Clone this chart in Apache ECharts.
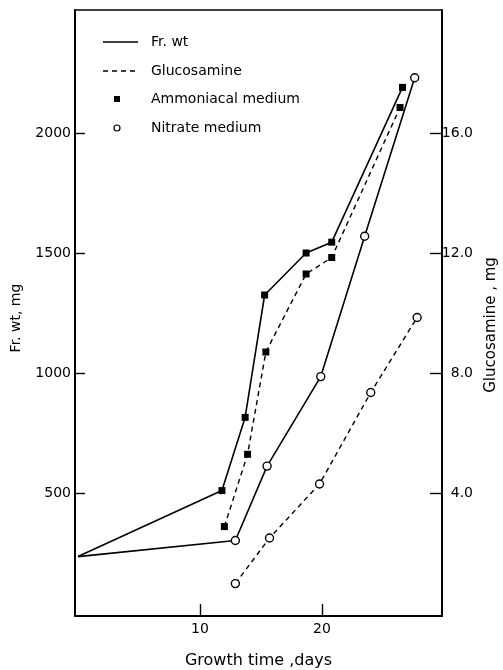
<!DOCTYPE html>
<html>
<head>
<meta charset="utf-8">
<script src="https://cdn.jsdelivr.net/npm/echarts@6/dist/echarts.min.js"></script>
<style>html,body{margin:0;padding:0;background:#fff;}#c{width:503px;height:670px;}</style>
</head>
<body>
<div id="c"></div>
<script>
// Data
var ammFrDays = [0, 11.8, 13.7, 15.3, 18.7, 20.8, 26.6];
var ammFrVals = [235, 510, 815, 1325, 1500, 1545, 2190];
var ammGlDays = [12.0, 13.9, 15.4, 18.7, 20.8, 26.4];
var ammGlVals = [2.88, 5.29, 8.7, 11.3, 11.85, 16.85];
var nitFrDays = [0, 12.9, 15.5, 19.9, 23.5, 27.6];
var nitFrVals = [235, 302, 612, 985, 1570, 2230];
var nitGlDays = [12.9, 15.7, 19.8, 24.0, 27.8];
var nitGlVals = [0.98, 2.5, 4.3, 7.35, 9.85];
var xTicks = [10, 20];
var frTicks = [500, 1000, 1500, 2000];
var glTicks = [4, 8, 12, 16];
var legendLabels = ['Fr. wt', 'Glucosamine', 'Ammoniacal medium', 'Nitrate medium'];

var FONT = 'DejaVu Sans';
function pts(d, v, firstNone) {
  return d.map(function (x, i) {
    var item = { value: [x, v[i]] };
    if (firstNone && i === 0) item.symbol = 'none';
    return item;
  });
}
var chart = echarts.init(document.getElementById('c'));
var solid = { color: '#000', width: 1.6, type: 'solid' };
var dashed = { color: '#000', width: 1.4, type: [5, 4] };
var sqStyle = { color: '#000', borderColor: '#000', borderWidth: 0 };
var ciStyle = { color: '#fff', borderColor: '#000', borderWidth: 1.4 };

chart.setOption({
  animation: false,
  backgroundColor: '#fff',
  grid: { left: 75, right: 61, top: 10, bottom: 54, outerBoundsMode: 'none', containLabel: false, show: false },
  xAxis: [{
    type: 'value', min: -0.246, max: 29.84,
    name: 'Growth time ,days', nameLocation: 'middle', nameGap: 37,
    nameTextStyle: { fontFamily: FONT, fontSize: 16, color: '#000' },
    axisLine: { show: true, onZero: false, lineStyle: { color: '#000', width: 2 } },
    axisTick: { show: true, inside: true, length: 12, customValues: xTicks, lineStyle: { color: '#000', width: 1.4 } },
    axisLabel: { customValues: xTicks, fontFamily: FONT, fontSize: 14, color: '#000', margin: 6 },
    splitLine: { show: false }
  }, {
    type: 'value', min: -0.246, max: 29.84, position: 'top',
    axisLine: { show: true, onZero: false, lineStyle: { color: '#000', width: 1.6 } },
    axisTick: { show: false }, axisLabel: { show: false }, splitLine: { show: false }
  }],
  yAxis: [{
    type: 'value', min: -12.5, max: 2512.5, position: 'left',
    name: 'Fr. wt, mg', nameLocation: 'middle', nameGap: 52, nameRotate: 90,
    nameTextStyle: { fontFamily: FONT, fontSize: 14, color: '#000', padding: [0, 0, 0, -10] },
    axisLine: { show: true, onZero: false, lineStyle: { color: '#000', width: 2 } },
    axisTick: { show: true, inside: true, length: 10, customValues: frTicks, lineStyle: { color: '#000', width: 1.4 } },
    axisLabel: { customValues: frTicks, fontFamily: FONT, fontSize: 14, color: '#000', margin: 4,
      formatter: function (v) { return String(v); } },
    splitLine: { show: false }
  }, {
    type: 'value', min: -0.1, max: 20.1, position: 'right',
    name: 'Glucosamine , mg', nameLocation: 'middle', nameGap: 42, nameRotate: 90,
    nameTextStyle: { fontFamily: FONT, fontSize: 15, color: '#000', padding: [0, 0, 0, -24] },
    axisLine: { show: true, onZero: false, lineStyle: { color: '#000', width: 2 } },
    axisTick: { show: true, inside: true, length: 12, customValues: glTicks, lineStyle: { color: '#000', width: 1.4 } },
    axisLabel: { customValues: glTicks, fontFamily: FONT, fontSize: 14, color: '#000', margin: 31, align: 'right',
      formatter: function (v) { return v.toFixed(1); } },
    splitLine: { show: false }
  }],
  series: [
    { name: 'Ammoniacal Fr. wt', type: 'line', data: pts(ammFrDays, ammFrVals, true), symbol: 'rect', symbolSize: 7,
      lineStyle: solid, itemStyle: sqStyle, z: 3 },
    { name: 'Ammoniacal Glucosamine', type: 'line', yAxisIndex: 1, data: pts(ammGlDays, ammGlVals, false), symbol: 'rect', symbolSize: 7,
      lineStyle: dashed, itemStyle: sqStyle, z: 3 },
    { name: 'Nitrate Fr. wt', type: 'line', data: pts(nitFrDays, nitFrVals, true), symbol: 'circle', symbolSize: 8,
      lineStyle: solid, itemStyle: ciStyle, z: 4 },
    { name: 'Nitrate Glucosamine', type: 'line', yAxisIndex: 1, data: pts(nitGlDays, nitGlVals, false), symbol: 'circle', symbolSize: 8,
      lineStyle: dashed, itemStyle: ciStyle, z: 4 }
  ],
  graphic: [
    { type: 'line', shape: { x1: 103, y1: 42, x2: 138, y2: 42 }, style: { stroke: '#000', lineWidth: 1.6 } },
    { type: 'line', shape: { x1: 103, y1: 71, x2: 138, y2: 71 }, style: { stroke: '#000', lineWidth: 1.4, lineDash: [5, 4] } },
    { type: 'rect', shape: { x: 114, y: 96, width: 6, height: 6 }, style: { fill: '#000' } },
    { type: 'circle', shape: { cx: 117, cy: 128, r: 3 }, style: { fill: '#fff', stroke: '#000', lineWidth: 1.2 } },
    { type: 'text', x: 151, y: 42, style: { text: legendLabels[0], font: '14px "DejaVu Sans"', fill: '#000', verticalAlign: 'middle' } },
    { type: 'text', x: 151, y: 71, style: { text: legendLabels[1], font: '14px "DejaVu Sans"', fill: '#000', verticalAlign: 'middle' } },
    { type: 'text', x: 151, y: 99, style: { text: legendLabels[2], font: '14px "DejaVu Sans"', fill: '#000', verticalAlign: 'middle' } },
    { type: 'text', x: 151, y: 128, style: { text: legendLabels[3], font: '14px "DejaVu Sans"', fill: '#000', verticalAlign: 'middle' } }
  ]
});
</script>
</body>
</html>
